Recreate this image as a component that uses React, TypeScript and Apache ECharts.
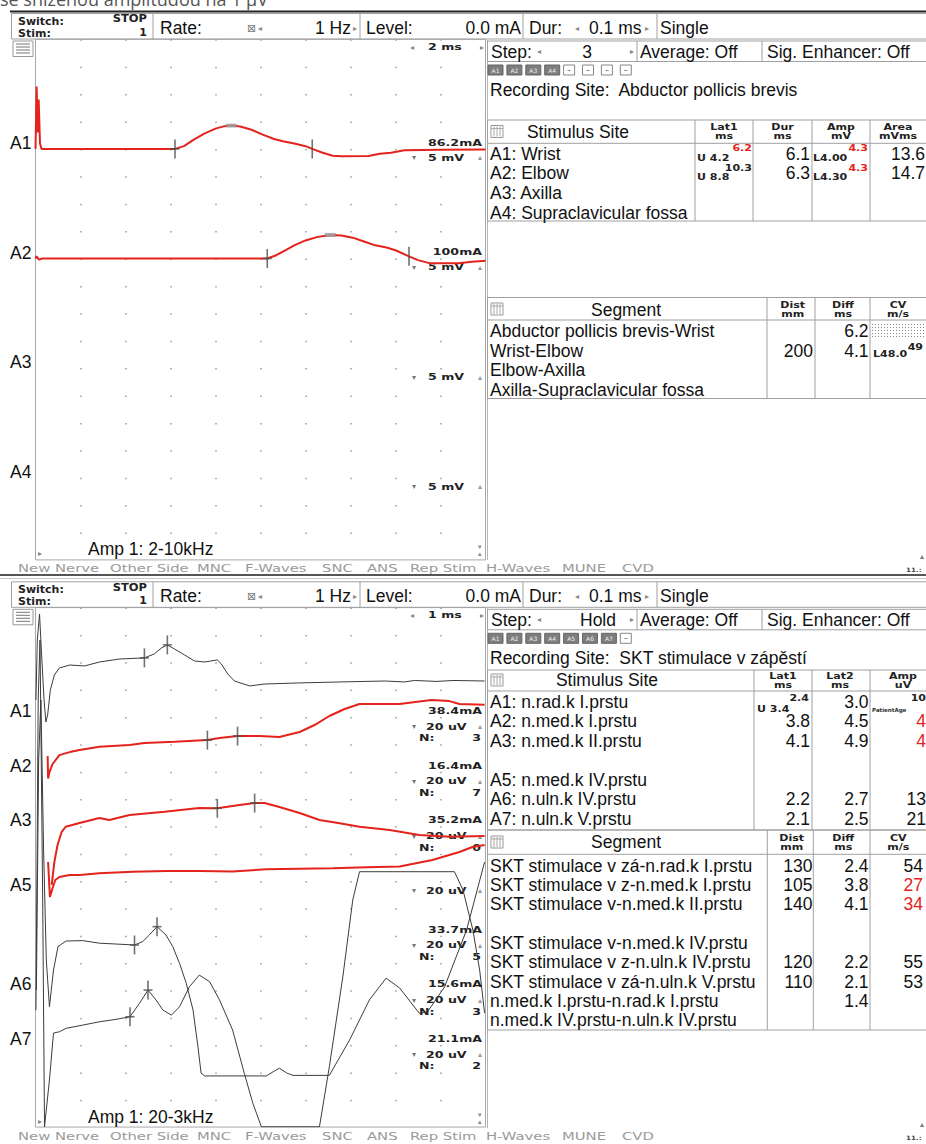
import React, { useEffect, useRef } from "react";
import * as echarts from "echarts";

type Pt = [number, number];
type Mk = [number, number, string];

// ================= TOP PANEL (MNC) — time [ms], amplitude [mV] =================
const topA1: Pt[] = [
  [0, 0], [0.05, 11.4], [0.1, 3], [0.14, 9], [0.2, 1], [0.27, 0],
  [6.2, 0], [6.6, 0.5], [7.0, 1.6], [7.5, 2.8], [8.0, 3.7], [8.4, 4.15], [8.7, 4.25],
  [9.1, 4.1], [9.6, 3.5], [10.1, 2.6], [10.6, 1.8], [11.0, 1.4], [11.5, 1.0], [12.0, 0.5],
  [12.3, 0.0], [12.7, -0.6], [13.2, -1.25], [13.6, -1.35], [14.8, -1.3], [15.3, -0.9],
  [15.8, -0.7], [16.4, -0.25], [18, -0.15], [20, -0.1],
];
const topA2: Pt[] = [
  [0, 0], [0.05, 0.4], [0.15, -0.2], [0.3, 0], [10.3, 0], [10.7, 0.6], [11.1, 1.5], [11.5, 2.4],
  [12.0, 3.3], [12.5, 3.9], [13.1, 4.3], [13.6, 4.2], [14.1, 3.8], [14.6, 3.1], [15.1, 2.4],
  [15.6, 2.0], [16.0, 1.5], [16.6, 0.4], [17.0, -0.3], [17.5, -0.85], [18.8, -0.85], [19.4, -0.6], [20, -0.4],
];
const topA1Marks: Mk[] = [[6.2, 0, "+"], [12.3, 0, "|"], [8.7, 4.25, "-"]];
const topA2Marks: Mk[] = [[10.3, 0, "+"], [16.6, 0.4, "|"], [13.1, 4.3, "-"]];

// ================= BOTTOM PANEL (SNC) — time [ms], amplitude [uV] =================
const botA1: Pt[] = [
  [0.01, 12.4], [0.04, 56.3], [0.09, 75.3], [0.13, 49.0], [0.19, 12.4], [0.23, -3.7], [0.27, 1.5],
  [0.33, 19.8], [0.42, 30.7], [0.53, 35.8], [0.76, 38.0], [1.09, 37.3], [1.42, 40.2], [1.87, 42.4],
  [2.42, 43.2], [2.64, 46.1], [2.8, 50.5], [2.93, 52.7], [3.09, 49.7], [3.31, 45.4], [3.53, 41.0],
  [3.76, 40.2], [4.04, 41.7], [4.13, 38.8], [4.27, 31.5], [4.42, 26.3], [4.76, 22.7], [5.09, 24.1],
  [5.87, 24.9], [6.76, 25.6], [7.76, 26.3], [8.2, 25.6], [8.42, 26.7], [8.9, 26.0], [9.3, 26.7], [9.98, 26.3],
];
const botA2: Pt[] = [
  [0.27, 11.4], [0.28, -5.0], [0.31, -0.3], [0.38, 5.6], [0.53, 12.1], [0.76, 14.3], [0.98, 15.8],
  [1.42, 18.2], [2.09, 19.5], [2.42, 20.9], [3.09, 21.9], [3.82, 23.1], [4.09, 24.6], [4.49, 26.0],
  [4.98, 26.0], [5.42, 25.3], [5.87, 29.0], [6.2, 34.1], [6.53, 40.7], [6.87, 45.8], [7.2, 49.5],
  [8.09, 49.5], [8.8, 52.4], [9.2, 51.6], [9.42, 49.5], [9.98, 48.9],
];
const botA3: Pt[] = [
  [0.36, -42.9], [0.42, -26.0], [0.49, -13.7], [0.58, -4.2], [0.67, -0.3], [0.98, 2.4], [1.42, 6.1],
  [1.64, 4.6], [2.09, 8.3], [2.87, 10.7], [3.64, 13.4], [4.04, 13.2], [4.53, 15.6], [4.87, 17.0],
  [5.09, 17.0], [5.42, 14.1], [5.87, 9.7], [6.31, 4.6], [6.76, 2.2], [7.2, -0.3], [7.87, -2.7],
  [8.53, -6.4], [9.2, -7.6], [9.98, -7.1],
];
const botA5: Pt[] = [
  [0.28, 13.9], [0.32, -11.7], [0.38, -5.1], [0.44, 0.7], [0.53, 2.9], [0.76, 4.4], [0.98, 4.4],
  [1.42, 5.6], [2.16, 6.8], [2.91, 7.3], [3.64, 7.3], [4.38, 6.9], [5.13, 8.6], [6.6, 9.3],
  [7.36, 10.0], [8.09, 10.6], [8.82, 15.4], [9.42, 21.2], [9.71, 24.9], [9.98, 26.3],
];
const botA6: Pt[] = [
  [0.02, 0.3], [0.07, 168.5], [0.12, 212.4], [0.18, 102.7], [0.24, 22.2], [0.31, -11.9], [0.4, 14.9],
  [0.5, 32.0], [0.68, 36.1], [1.05, 36.4], [1.42, 34.5], [1.79, 33.9], [2.2, 33.2], [2.38, 35.6],
  [2.53, 40.5], [2.7, 46.6], [2.9, 40.5], [3.05, 32.0], [3.2, 19.8], [3.35, 5.2], [3.5, -14.3],
  [3.61, -41.2], [3.68, -60.6], [3.76, -62.6], [5.13, -62.6], [5.31, -59.0], [5.42, -57.0],
  [5.58, -60.4], [5.72, -62.2], [6.53, -62.2], [6.98, -36.3], [7.42, -7.0], [7.79, 8.9],
  [8.09, 1.8], [8.53, -16.8], [8.71, -15.8], [9.09, 2.5], [9.58, 44.2], [9.98, 93.9],
];
const botA7: Pt[] = [
  [0.01, 25.6], [0.06, 252.4], [0.1, 296.3], [0.16, 106.1], [0.2, -59.8], [0.31, -25.6], [0.4, 8.8],
  [0.53, 9.7], [0.68, 12.2], [1.05, 14.6], [1.42, 17.0], [1.79, 18.8], [2.1, 20.7], [2.31, 30.5],
  [2.5, 40.2], [2.68, 32.9], [2.83, 25.6], [3.02, 21.9], [3.2, 28.0], [3.42, 42.6], [3.64, 51.2],
  [3.87, 46.3], [4.09, 32.9], [4.38, 11.0], [4.64, -20.7], [4.83, -42.6], [5.02, -59.8],
  [6.31, -59.8], [6.53, -15.9], [6.83, 50.0], [7.05, 106.1], [7.2, 126.8], [9.31, 126.8],
  [9.5, 113.4], [9.72, 84.1], [9.87, 54.9], [9.98, 23.4],
];
const botA1Marks: Mk[] = [[2.42, 43.2, "+"], [2.93, 52.7, "+"]];
const botA2Marks: Mk[] = [[3.82, 23.1, "+"], [4.49, 26.0, "+"]];
const botA3Marks: Mk[] = [[4.04, 13.2, "+"], [4.87, 17.0, "+"]];
const botA6Marks: Mk[] = [[2.2, 33.2, "+"], [2.7, 46.6, "+"]];
const botA7Marks: Mk[] = [[2.1, 20.7, "+"], [2.5, 40.2, "+"]];

// ================= Labels / tables =================
const menuItems = ["New Nerve", "Other Side", "MNC", "F-Waves", "SNC", "ANS", "Rep Stim", "H-Waves", "MUNE", "CVD"];
const topChannelNames = ["A1", "A2", "A3", "A4"];
const topStimCurrents = ["86.2mA", "100mA", "", ""];
const topSens = ["5 mV", "5 mV", "5 mV", "5 mV"];
const botChannelNames = ["A1", "A2", "A3", "A5", "A6", "A7"];
const botStimCurrents = ["38.4mA", "16.4mA", "35.2mA", "", "33.7mA", "15.6mA", "21.1mA"];
const botSens = ["20 uV", "20 uV", "20 uV", "20 uV", "20 uV", "20 uV", "20 uV"];
const botAverages = ["3", "7", "0", "", "5", "3", "2"];

const topButtons = ["A1", "A2", "A3", "A4", "–", "–", "–", "–"];
const botButtons = ["A1", "A2", "A3", "A4", "A5", "A6", "A7", "–"];

const topStimSites = ["A1: Wrist", "A2: Elbow", "A3: Axilla", "A4: Supraclavicular fossa"];
const topLat1 = ["U 4.2", "U 8.8"];
const topLat1Sup = ["6.2", "10.3"];
const topDur = ["6.1", "6.3"];
const topAmp = ["L4.00", "L4.30"];
const topAmpSup = ["4.3", "4.3"];
const topArea = ["13.6", "14.7"];
const topSegments = ["Abductor pollicis brevis-Wrist", "Wrist-Elbow", "Elbow-Axilla", "Axilla-Supraclavicular fossa"];
const topDist = ["", "200", "", ""];
const topDiff = ["6.2", "4.1", "", ""];

const botStimSites = ["A1: n.rad.k I.prstu", "A2: n.med.k I.prstu", "A3: n.med.k II.prstu", "", "A5: n.med.k IV.prstu", "A6: n.uln.k IV.prstu", "A7: n.uln.k V.prstu"];
const botLat1 = ["", "3.8", "4.1", "", "", "2.2", "2.1"];
const botLat2 = ["3.0", "4.5", "4.9", "", "", "2.7", "2.5"];
const botAmp = ["", "4", "4", "", "", "13", "21"];
const botAmpRed = [false, true, true, false, false, false, false];
const botSegments = [
  "SKT stimulace v zá-n.rad.k I.prstu", "SKT stimulace v z-n.med.k I.prstu", "SKT stimulace v-n.med.k II.prstu", "",
  "SKT stimulace v-n.med.k IV.prstu", "SKT stimulace v z-n.uln.k IV.prstu", "SKT stimulace v zá-n.uln.k V.prstu",
  "n.med.k I.prstu-n.rad.k I.prstu", "n.med.k IV.prstu-n.uln.k IV.prstu",
];
const botDist = ["130", "105", "140", "", "", "120", "110", "", ""];
const botDiff = ["2.4", "3.8", "4.1", "", "", "2.2", "2.1", "1.4", ""];
const botCV = ["54", "27", "34", "", "", "55", "53", "", ""];
const botCVRed = [false, true, true, false, false, false, false, false, false];

const UI = '"Liberation Sans", Arial, sans-serif';
const SM = '"DejaVu Sans", Verdana, sans-serif';
const RED = "#e3231c";
const INK = "#3c3c3c";
const FS = 17.5;

export default function App() {
  const ref = useRef<HTMLDivElement>(null);
  useEffect(() => {
    if (!ref.current) return;
    const chart = echarts.init(ref.current, undefined, { renderer: "svg" });
    const els: any[] = [];
    const t = (x: number, y: number, text: string, size = FS, o: any = {}) => {
      els.push({
        type: "text", x, y, scaleX: o.sx ?? 1, silent: true, z: 1,
        style: {
          text, font: `${o.bold ? "bold " : ""}${size}px ${o.ff ?? UI}`, fill: o.color ?? "#111",
          textAlign: o.align ?? "left", align: o.align ?? "left",
          textVerticalAlign: "middle", verticalAlign: "middle",
        },
      });
    };
    const s = (x: number, y: number, text: string, o: any = {}) =>
      t(x, y, text, o.size ?? 9, { bold: true, ff: SM, sx: o.sx ?? 1.4, color: o.color ?? "#222", align: o.align });
    const l = (x1: number, y1: number, x2: number, y2: number, color = "#a0a0a0", w = 1) =>
      els.push({ type: "line", silent: true, shape: { x1, y1, x2, y2 }, style: { stroke: color, lineWidth: w } });
    const r = (x: number, y: number, w: number, h: number, stroke = "#a0a0a0", fill = "transparent") =>
      els.push({ type: "rect", silent: true, shape: { x, y, width: w, height: h }, style: { stroke, fill, lineWidth: 1 } });
    const arrow = (x: number, y: number, c: string) => t(x, y, c, 8, { ff: SM, color: "#888" });
    const gridIcon = (x: number, y: number) => {
      r(x, y, 12, 12, "#999");
      [3, 6, 9].forEach((d) => l(x + d, y + 1, x + d, y + 11, "#aaa"));
      l(x, y + 3, x + 12, y + 3, "#aaa");
    };

    // page header remnant (cut at the top edge, as in the source screenshot)
    t(0, -1, "se sníženou amplitudou na 1 μV", 18, { ff: '"Open Sans", sans-serif', color: "#555" });
    l(10, 11.5, 926, 11.5, "#222", 2);

    const panel = (dy: number, stepVal: string, stepX: number, buttons: string[], site: string, ms: string, amp: string) => {
      r(11.5, 13.5 + dy, 915, 25.5);
      [153, 360, 523, 657].forEach((x) => l(x, 13.5 + dy, x, 39 + dy));
      s(18, 20.8 + dy, "Switch:", { size: 10, sx: 1.1 });
      s(18, 33 + dy, "Stim:", { size: 10, sx: 1.1 });
      s(147, 19 + dy, "STOP", { size: 10, sx: 1.15, align: "right" });
      s(147, 32 + dy, "1", { size: 10, sx: 1.1, align: "right" });
      t(160, 28 + dy, "Rate:");
      t(247, 28 + dy, "⊠", 11, { ff: SM, color: "#777" });
      arrow(258, 28 + dy, "◂");
      t(351, 28 + dy, "1 Hz", FS, { align: "right" });
      arrow(353, 28 + dy, "▸");
      t(366, 28 + dy, "Level:");
      t(521, 28 + dy, "0.0 mA", FS, { align: "right" });
      t(529, 28 + dy, "Dur:");
      arrow(575, 28 + dy, "◂");
      t(589, 28 + dy, "0.1 ms");
      arrow(645, 28 + dy, "▸");
      t(660, 28 + dy, "Single");
      r(13, 41 + dy, 20, 15.5, "#999");
      [44, 47, 50, 53].forEach((y) => l(16, y + dy, 30, y + dy, "#777"));
      arrow(410, 47 + dy, "◂");
      s(428, 47 + dy, ms);
      arrow(480, 47 + dy, "▸");
      arrow(38, 553 + dy, "▸");
      t(88, 549 + dy, amp, FS);
      t(478, 547 + dy, "▾", 7, { ff: SM, color: "#888" });
      t(478, 554 + dy, "▴", 7, { ff: SM, color: "#888" });
      const menuX = [18, 110, 197, 245, 322, 367, 410, 486, 562, 622];
      menuItems.forEach((m, i) => t(menuX[i], 568 + dy, m, 10, { ff: SM, color: "#9a9a9a", sx: 1.48 }));
      t(920, 556 + dy, "▴", 8, { ff: SM, color: "#777" });
      s(906, 570 + dy, "11.:", { size: 6, sx: 1.2, color: "#444" });
      l(487.5, 40 + dy, 487.5, 560 + dy, "#b5b5b5");
      r(487.5, 41 + dy, 440, 20.5);
      l(637, 41 + dy, 637, 61.5 + dy);
      l(762, 41 + dy, 762, 61.5 + dy);
      t(491, 51.5 + dy, "Step:");
      arrow(537, 51.5 + dy, "◂");
      t(stepX, 51.5 + dy, stepVal, FS, { align: "center" });
      arrow(630, 51.5 + dy, "▸");
      t(640, 51.5 + dy, "Average: Off");
      t(767, 51.5 + dy, "Sig. Enhancer: Off");
      buttons.forEach((b, i) => {
        const x = 488 + i * 18.9;
        if (b === "–") {
          r(x, 65 + dy, 11, 10, "#888", "#fff");
          t(x + 5.5, 70 + dy, "–", 8, { ff: SM, align: "center", color: "#555" });
        } else {
          r(x, 65 + dy, 15, 10, "#666", "#7d7d7d");
          t(x + 7.5, 70 + dy, b, 6, { ff: SM, align: "center", color: "#eee" });
        }
      });
      t(490, 89.5 + dy, "Recording Site:  " + site);
    };
    panel(0, "3", 587, topButtons, "Abductor pollicis brevis", "2 ms", "Amp 1: 2-10kHz");
    panel(568.3, "Hold", 598, botButtons, "SKT stimulace v zápěstí", "1 ms", "Amp 1: 20-3kHz");
    l(0, 575, 926, 575, "#555", 2);
    l(0, 578.5, 926, 578.5, "#c8c8c8", 1);

    topChannelNames.forEach((n, i) => {
      const yb = 39.3 + (4 + 4 * i) * 27.4;
      t(10, yb - 6, n);
      if (topStimCurrents[i]) s(482, yb - 6, topStimCurrents[i], { align: "right" });
      t(412, yb + 9, "▾", 8, { ff: SM, color: "#777" });
      s(428, yb + 9, topSens[i]);
      t(478, yb + 9, "▴", 8, { ff: SM, color: "#999" });
    });
    const botLabelY = [711, 765.6, 820.3, 885, 984.4, 1039];
    botChannelNames.forEach((n, i) => t(10, botLabelY[i], n));
    botSens.forEach((sv, i) => {
      const yb = 607.6 + (4 + 2 * i) * 27.34;
      if (botStimCurrents[i]) s(482, yb - 6, botStimCurrents[i], { align: "right" });
      t(412, yb + 9.7, "▾", 8, { ff: SM, color: "#777" });
      s(426, yb + 9.7, sv);
      t(478, yb + 9.7, "▴", 8, { ff: SM, color: "#999" });
      if (botAverages[i]) {
        s(419, yb + 21.5, "N:");
        s(481, yb + 21.5, botAverages[i], { align: "right" });
      }
    });

    // ---- top Stimulus table ----
    r(487.5, 120, 440, 101);
    l(487.5, 143.3, 926, 143.3);
    [695, 753, 812, 870].forEach((x) => l(x, 120, x, 221));
    gridIcon(491, 125.5);
    t(578, 131.5, "Stimulus Site", FS, { align: "center" });
    const th = (cx: number, y: number, a: string, b: string) => {
      s(cx, y - 4.5, a, { size: 8.5, sx: 1.3, align: "center" });
      s(cx, y + 4.5, b, { size: 8.5, sx: 1.3, align: "center" });
    };
    th(724, 131.5, "Lat1", "ms"); th(782.5, 131.5, "Dur", "ms"); th(841, 131.5, "Amp", "mV"); th(898, 131.5, "Area", "mVms");
    topStimSites.forEach((n, i) => {
      const y = 153.8 + i * 19.6;
      t(490, y, n);
      if (topLat1[i]) {
        s(697, y + 4, topLat1[i], { size: 8.5, sx: 1.3 });
        s(752, y - 5.5, topLat1Sup[i], { size: 8.5, sx: 1.3, align: "right", color: i === 0 ? RED : "#222" });
        t(810, y, topDur[i], FS, { align: "right" });
        s(813, y + 4, topAmp[i], { size: 8.5, sx: 1.3 });
        s(868, y - 5.5, topAmpSup[i], { size: 8.5, sx: 1.3, align: "right", color: RED });
        t(925, y, topArea[i], FS, { align: "right" });
      }
    });
    // ---- top Segment table ----
    r(487.5, 297.5, 440, 101);
    l(487.5, 320, 926, 320);
    [767, 815, 870].forEach((x) => l(x, 297.5, x, 398.5));
    gridIcon(491, 303);
    t(626, 309.5, "Segment", FS, { align: "center" });
    th(792.7, 309, "Dist", "mm"); th(843, 309, "Diff", "ms"); th(898, 309, "CV", "m/s");
    topSegments.forEach((n, i) => {
      const y = 331 + i * 19.6;
      t(490, y, n);
      if (topDist[i]) t(813, y, topDist[i], FS, { align: "right" });
      if (topDiff[i]) t(868.5, y, topDiff[i], FS, { align: "right" });
    });
    [324.5, 327.5, 330.5, 333.5, 336.5].forEach((y) =>
      els.push({ type: "line", silent: true, shape: { x1: 872, y1: y, x2: 926, y2: y }, style: { stroke: "#888", lineWidth: 1, lineDash: [1, 2] } })
    );
    s(923, 346.5, "49", { size: 8.5, sx: 1.3, align: "right" });
    s(873, 354, "L48.0", { size: 8.5, sx: 1.3 });

    // ---- bottom Stimulus table ----
    r(487.5, 670, 440, 160);
    l(487.5, 691, 926, 691);
    [754, 812, 870].forEach((x) => l(x, 670, x, 830));
    gridIcon(491, 674);
    t(607, 680, "Stimulus Site", FS, { align: "center" });
    th(783, 680, "Lat1", "ms"); th(840, 680, "Lat2", "ms"); th(903, 680, "Amp", "uV");
    botStimSites.forEach((n, i) => {
      const y = 701.7 + i * 19.55;
      if (n) t(490, y, n);
      if (botLat1[i]) t(810, y, botLat1[i], FS, { align: "right" });
      if (botLat2[i]) t(868.5, y, botLat2[i], FS, { align: "right" });
      if (botAmp[i]) t(926, y, botAmp[i], FS, { align: "right", color: botAmpRed[i] ? RED : "#111" });
    });
    s(757, 709, "U 3.4", { size: 8.5, sx: 1.3 });
    s(809, 698, "2.4", { size: 8.5, sx: 1.3, align: "right" });
    s(926, 698, "10", { size: 8.5, sx: 1.3, align: "right" });
    t(872, 710, "PatientAge", 5.5, { ff: SM, bold: true, color: "#333" });
    // ---- bottom Segment table ----
    r(487.5, 830, 440, 200);
    l(487.5, 854.3, 926, 854.3);
    [767.3, 813.3, 870].forEach((x) => l(x, 830, x, 1030));
    gridIcon(491, 836);
    t(626, 841.7, "Segment", FS, { align: "center" });
    th(791.7, 842, "Dist", "mm"); th(843.3, 842, "Diff", "ms"); th(898.3, 842, "CV", "m/s");
    botSegments.forEach((n, i) => {
      const y = 865.7 + i * 19.3;
      if (n) t(490, y, n);
      if (botDist[i]) t(812.5, y, botDist[i], FS, { align: "right" });
      if (botDiff[i]) t(868.5, y, botDiff[i], FS, { align: "right" });
      if (botCV[i]) t(923, y, botCV[i], FS, { align: "right", color: botCVRed[i] ? RED : "#111" });
    });

    // ---- charts ----
    const xAx = (gridIndex: number, max: number, interval: number, div: number) => ({
      type: "value", gridIndex, min: 0, max, interval,
      axisLine: { show: false }, axisTick: { show: false }, axisLabel: { show: false },
      splitLine: { show: true, showMinLine: false, showMaxLine: false, lineStyle: { color: "#9a9a9a", width: 1.5, type: [1.5, div - 1.5] } },
    });
    const yAx = (gridIndex: number, baseDiv: number, sens: number) => ({
      type: "value", gridIndex, show: false, min: -(19 - baseDiv) * sens, max: baseDiv * sens,
      splitLine: { show: false },
    });
    const trace = (data: Pt[], xi: number, yi: number, color: string, width: number) => ({
      type: "line", data, xAxisIndex: xi, yAxisIndex: yi, showSymbol: false, symbol: "none", silent: true,
      lineStyle: { color, width }, z: 3, clip: true,
    });
    const marks = (list: Mk[], xi: number, yi: number) => ({
      type: "scatter", xAxisIndex: xi, yAxisIndex: yi, silent: true, z: 4, symbol: "rect",
      itemStyle: { color: "#4d4d4d" },
      data: list.flatMap(([tt, v, k]) =>
        k === "|" ? [{ value: [tt, v], symbolSize: [1.6, 19] }]
          : k === "-" ? [{ value: [tt, v], symbolSize: [10, 3], itemStyle: { color: "#a8a8a8", borderColor: "#777", borderWidth: 0.5 } }]
            : [{ value: [tt, v], symbolSize: [1.6, 19] }, { value: [tt, v], symbolSize: [9, 1.6] }]
      ),
    });

    chart.setOption({
      animation: false,
      backgroundColor: "#ffffff",
      grid: [
        { left: 35.5, top: 39.3, width: 450, height: 19 * 27.4, show: true, borderColor: "#a8a8a8", borderWidth: 1, backgroundColor: "transparent" },
        { left: 35.5, top: 607.6, width: 450, height: 19 * 27.34, show: true, borderColor: "#a8a8a8", borderWidth: 1, backgroundColor: "transparent" },
      ],
      xAxis: [xAx(0, 20, 2, 27.4), xAx(1, 10, 1, 27.34)],
      yAxis: [
        yAx(0, 4, 5), yAx(0, 8, 5),
        yAx(1, 4, 20), yAx(1, 6, 20), yAx(1, 8, 20), yAx(1, 10, 20), yAx(1, 14, 20), yAx(1, 16, 20),
      ],
      graphic: { elements: els },
      series: [
        trace(topA1, 0, 0, RED, 2), trace(topA2, 0, 1, RED, 2),
        marks(topA1Marks, 0, 0), marks(topA2Marks, 0, 1),
        trace(botA1, 1, 2, INK, 1), trace(botA2, 1, 3, RED, 2), trace(botA3, 1, 4, RED, 2),
        trace(botA5, 1, 5, RED, 2), trace(botA6, 1, 6, INK, 1), trace(botA7, 1, 7, INK, 1),
        marks(botA1Marks, 1, 2), marks(botA2Marks, 1, 3), marks(botA3Marks, 1, 4),
        marks(botA6Marks, 1, 6), marks(botA7Marks, 1, 7),
      ],
    });
    return () => chart.dispose();
  }, []);
  return <div ref={ref} style={{ position: "absolute", left: 0, top: 0, width: 926, height: 1144, background: "#fff" }} />;
}
